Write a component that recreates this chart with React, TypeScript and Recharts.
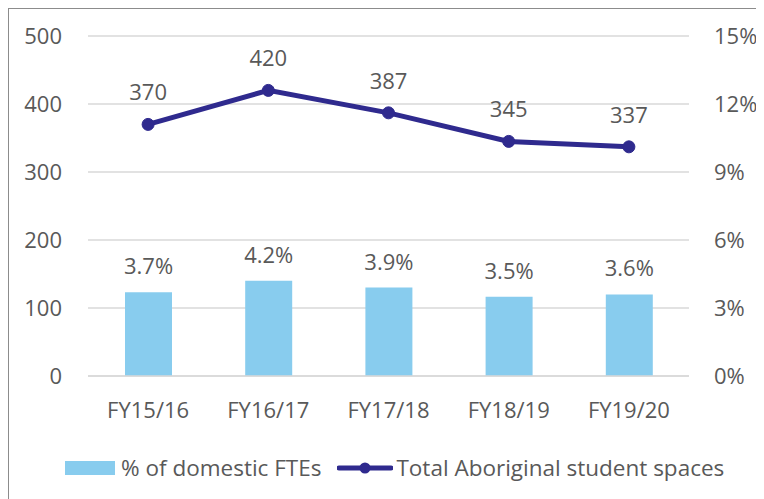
import React from 'react';
import { ComposedChart, Bar, Line, XAxis, YAxis, CartesianGrid, Legend, LabelList } from 'recharts';

const categories = ['FY15/16', 'FY16/17', 'FY17/18', 'FY18/19', 'FY19/20'];
const pctDomestic = [3.7, 4.2, 3.9, 3.5, 3.6];
const totalSpaces = [370, 420, 387, 345, 337];
const leftTicks = [0, 100, 200, 300, 400, 500];
const rightTicks = [0, 3, 6, 9, 12, 15];

const data = categories.map((c, i) => ({ name: c, pct: pctDomestic[i], total: totalSpaces[i] }));

const FONT = '"Open Sans", sans-serif';
const TXT = '#595959';
const BAR = '#88CCEE';
const LINE = '#2F2A8E';
const FS = 22;

const LegendContent = () => (
  <div style={{ display: 'flex', alignItems: 'center', fontFamily: FONT, fontSize: 22.5, color: TXT, whiteSpace: 'nowrap' }}>
    <span style={{ display: 'inline-block', width: 50, height: 14, background: BAR, marginRight: 6 }} />
    <span>% of domestic FTEs</span>
    <svg width={56} height={14} style={{ marginLeft: 16, marginRight: 3 }}>
      <line x1={2} y1={7} x2={54} y2={7} stroke={LINE} strokeWidth={5} strokeLinecap="round" />
      <circle cx={28} cy={7} r={5.5} fill={LINE} />
    </svg>
    <span>Total Aboriginal student spaces</span>
  </div>
);

export default function App() {
  return (
    <div style={{ width: 756, height: 491, borderTop: '1px solid #8c8c8c', borderLeft: '1px solid #8c8c8c', overflow: 'hidden', background: '#fff' }}>
      <ComposedChart width={755} height={490} data={data} margin={{ top: 27, right: 0, left: 0, bottom: 0 }}>
        <CartesianGrid vertical={false} stroke="#d9d9d9" strokeWidth={1.5} yAxisId="left" />
        <XAxis dataKey="name" axisLine={{ stroke: '#d9d9d9', strokeWidth: 1.5 }} tickLine={false} tickSize={0} tickMargin={26} height={60}
          tick={{ fill: TXT, fontSize: FS, fontFamily: FONT }} interval={0} />
        <YAxis yAxisId="left" orientation="left" domain={[0, 500]} ticks={leftTicks} width={79} axisLine={false} tickLine={false} tickSize={0} tickMargin={26}
          tick={{ fill: TXT, fontSize: FS, fontFamily: FONT }} />
        <YAxis yAxisId="right" orientation="right" domain={[0, 15]} ticks={rightTicks} width={75} axisLine={false} tickLine={false} tickSize={0} tickMargin={25}
          tickFormatter={(v: number) => `${v}%`} tick={{ fill: TXT, fontSize: FS, fontFamily: FONT, textAnchor: 'start' }} />
        <Legend verticalAlign="bottom" height={63} content={() => <LegendContent />}
          wrapperStyle={{ position: 'absolute', left: 56, top: 443, width: 700 }} />
        <Bar yAxisId="right" dataKey="pct" fill={BAR} barSize={47} isAnimationActive={false}>
          <LabelList dataKey="pct" position="top" offset={18} formatter={(v: number) => `${v.toFixed(1)}%`}
            style={{ fill: TXT, fontSize: FS, fontFamily: FONT }} />
        </Bar>
        <Line yAxisId="left" dataKey="total" stroke={LINE} strokeWidth={5} isAnimationActive={false}
          dot={{ r: 6, fill: LINE, stroke: LINE, strokeWidth: 1 }} activeDot={false}>
          <LabelList dataKey="total" position="top" offset={24} style={{ fill: TXT, fontSize: FS, fontFamily: FONT }} />
        </Line>
      </ComposedChart>
    </div>
  );
}
